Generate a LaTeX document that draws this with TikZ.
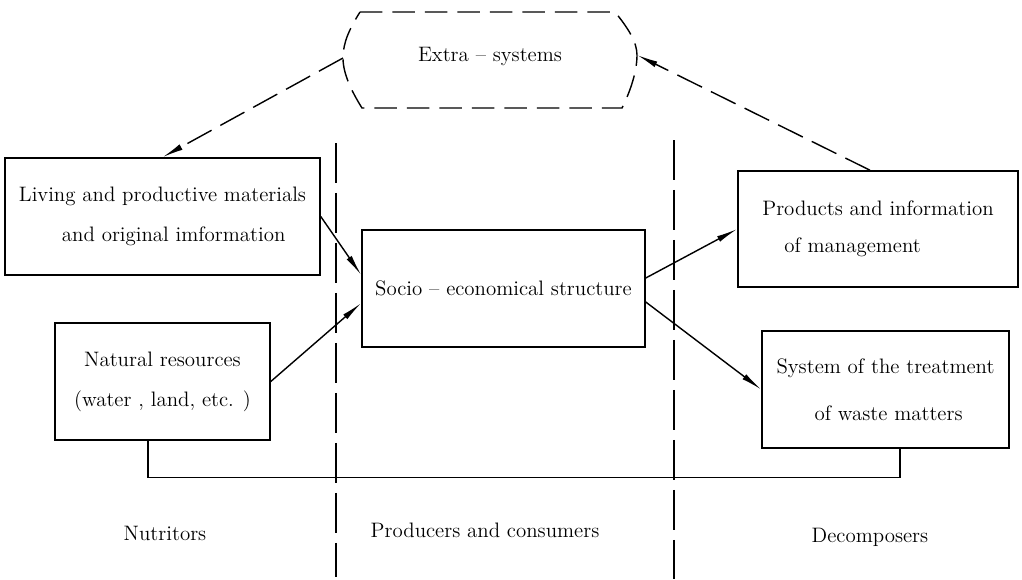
\documentclass[tikz,border=0pt]{standalone}
\usetikzlibrary{arrows.meta}
\begin{document}
\begin{tikzpicture}[x=0.02cm,y=-0.02cm,
  box/.style={draw,line width=0.9pt,minimum height=2.34cm,inner sep=2pt,
    font=\fontsize{11.9}{22.7}\selectfont},
  lbl/.style={font=\fontsize{11.9}{14}\selectfont},
  arr/.style={line width=0.8pt,-{Latex[length=12pt,width=3.5pt]}},
  darr/.style={line width=0.8pt,dash pattern=on 0.55cm off 0.2cm,-{Latex[length=12pt,width=3.5pt]}},
  divider/.style={line width=0.8pt,dash pattern=on 0.8cm off 0.2cm},
  extline/.style={line width=0.8pt,dash pattern=on 0.45cm off 0.2cm}]
\useasboundingbox (0,0) rectangle (1022,579);

% Extra-systems
\path[extline,draw] (360,12) -- (615,12) .. controls (628,28) and (637,42) .. (637,55)
  .. controls (637,72) and (630,92) .. (622,108) -- (362,108)
  .. controls (352,92) and (343,74) .. (343,58) .. controls (343,42) and (350,28) .. (360,12);
\node[lbl] (ext) at (490,57) {Extra -- systems};
\coordinate (extL) at (343,58);
\coordinate (extR) at (637,55);

% dividers
\coordinate (d1t) at (336,143);
\coordinate (d1b) at (336,577);
\coordinate (d2t) at (674,140);
\coordinate (d2b) at (674,579);
\draw[divider] (d1t) -- (d1b);
\draw[divider] (d2t) -- (d2b);

% boxes
\node[box,minimum width=6.30cm,align=left] (liv) at (162.5,216.5)
  {Living and productive materials\\\hspace*{0.86cm}and original imformation};
\node[box,minimum width=5.66cm] (soc) at (503.5,288.5) {Socio -- economical structure};
\node[box,minimum width=5.60cm,minimum height=2.32cm,align=left,
  font=\fontsize{11.9}{21}\selectfont] (prod) at (878,229)
  {Products and information\\\hspace*{0.44cm}of management};
\node[box,minimum width=4.30cm,align=center] (nat) at (162.5,381.5)
  {Natural resources\\(water , land, etc. )};
\node[box,minimum width=4.94cm,align=left,
  font=\fontsize{11.9}{26.7}\selectfont] (sys) at (885.5,389.5)
  {System of the treatment\\\hspace*{0.76cm}of waste matters};

% connectors
\draw[arr] (liv.east) -- ([yshift=0.27cm]soc.west);
\draw[arr] (nat.east) -- ([yshift=-0.29cm]soc.west);
\draw[arr] ([yshift=0.21cm]soc.east) -- (prod.west);
\draw[arr] ([yshift=-0.27cm]soc.east) -- (sys.west);
\draw[darr] (extL) -- (liv.north);
\draw[darr] ([xshift=-0.16cm]prod.north) -- (extR);
\draw[line width=0.8pt] ([xshift=-0.29cm]nat.south) |- ([xshift=0.29cm,yshift=-0.58cm]sys.south) -- ([xshift=0.29cm]sys.south);

% column labels
\node[lbl] (nut) at (165,533) {Nutritors};
\node[lbl] (pc) at (485,530) {Producers and consumers};
\node[lbl] (dec) at (870,537) {Decomposers};
\end{tikzpicture}
\end{document}
